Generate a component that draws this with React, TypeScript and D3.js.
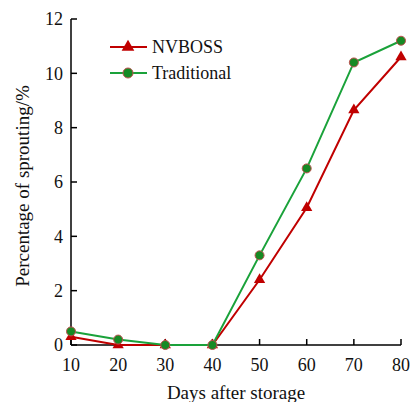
import React from "react";
import * as d3 from "d3";

const days = [10, 20, 30, 40, 50, 60, 70, 80];
const nvboss = [0.3, 0, 0, 0, 2.4, 5.05, 8.65, 10.6];
const traditional = [0.5, 0.2, 0, 0, 3.3, 6.5, 10.4, 11.2];
const yTicks = [0, 2, 4, 6, 8, 10, 12];
const xTicks = [10, 20, 30, 40, 50, 60, 70, 80];

const RED = "#c00000";
const GREEN = "#1aa23a";
const GREEN_FILL = "#168a24";

export default function App() {
  const W = 414, H = 402;
  const x = d3.scaleLinear().domain([10, 80]).range([71, 401]);
  const y = d3.scaleLinear().domain([0, 12]).range([345, 19]);
  const line = d3.line<number>().x((_, i) => x(days[i])).y((d) => y(d));
  const font = "'Liberation Serif', 'Times New Roman', serif";
  const tri = d3.symbol().type(d3.symbolTriangle).size(55)();
  const legendTri = d3.symbol().type(d3.symbolTriangle).size(70)();

  return (
    <svg width={W} height={H} style={{ position: "absolute", left: 0, top: 0, background: "#fff" }} fontFamily={font}>
      {/* axes */}
      <line x1={x(10)} x2={x(10)} y1={y(12)} y2={y(0)} stroke="#000" strokeWidth={1.5} />
      <line x1={x(10)} x2={x(80)} y1={y(0)} y2={y(0)} stroke="#000" strokeWidth={1.5} />
      {yTicks.map((t) => (
        <g key={"y" + t}>
          <line x1={x(10)} x2={x(10) + 6} y1={y(t)} y2={y(t)} stroke="#000" strokeWidth={1.5} />
          <text x={x(10) - 8} y={y(t)} dy="0.35em" textAnchor="end" fontSize={18} fill="#111">{t}</text>
        </g>
      ))}
      {xTicks.map((t) => (
        <g key={"x" + t}>
          <line x1={x(t)} x2={x(t)} y1={y(0)} y2={y(0) - 6} stroke="#000" strokeWidth={1.5} />
          <text x={x(t)} y={y(0) + 26} textAnchor="middle" fontSize={18} fill="#111">{t}</text>
        </g>
      ))}
      <text x={236} y={399} textAnchor="middle" fontSize={19} fill="#111">Days after storage</text>
      <text transform={`translate(29,${186}) rotate(-90)`} textAnchor="middle" fontSize={19} fill="#111">Percentage of sprouting/%</text>

      {/* NVBOSS */}
      <path d={line(nvboss) || ""} fill="none" stroke={RED} strokeWidth={2} />
      {nvboss.map((v, i) => (
        <path key={"n" + i} d={tri || ""} transform={`translate(${x(days[i])},${y(v)})`} fill={RED} />
      ))}
      {/* Traditional */}
      <path d={line(traditional) || ""} fill="none" stroke={GREEN} strokeWidth={2} />
      {traditional.map((v, i) => (
        <circle key={"t" + i} cx={x(days[i])} cy={y(v)} r={4.5} fill={GREEN_FILL} stroke="#c05050" strokeWidth={1} />
      ))}

      {/* legend */}
      <line x1={110} x2={147} y1={47} y2={47} stroke={RED} strokeWidth={2} />
      <path d={legendTri || ""} transform="translate(128,47)" fill={RED} />
      <text x={152} y={47} dy="0.35em" fontSize={18} fill="#111">NVBOSS</text>
      <line x1={110} x2={147} y1={73} y2={73} stroke={GREEN} strokeWidth={2} />
      <circle cx={128} cy={73} r={5} fill={GREEN_FILL} stroke="#c05050" strokeWidth={1} />
      <text x={152} y={73} dy="0.35em" fontSize={18} fill="#111">Traditional</text>
    </svg>
  );
}
